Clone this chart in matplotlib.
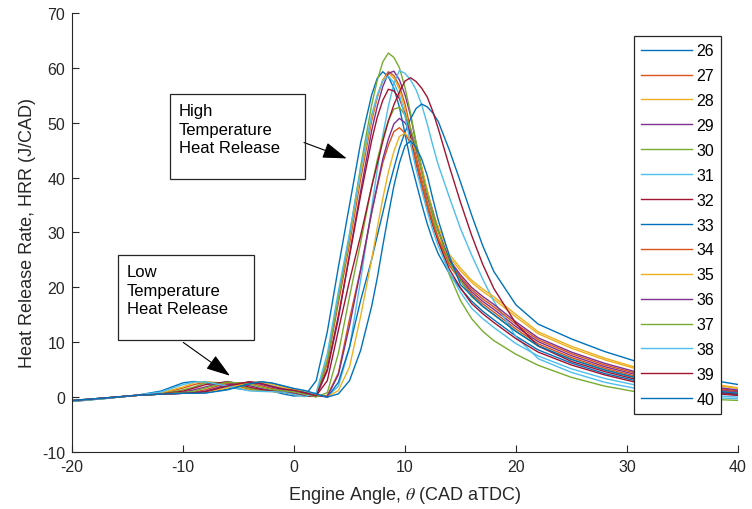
import matplotlib
matplotlib.use('Agg')
import matplotlib.pyplot as plt
from matplotlib.patches import Rectangle

plt.rcParams['font.family'] = ['Liberation Sans', 'DejaVu Sans']
plt.rcParams['mathtext.fontset'] = 'stix'
plt.rcParams['axes.unicode_minus'] = False

# Engine angle grid (CAD aTDC)
theta = [-20, -17, -14, -12, -10, -9, -8, -6, -4, -3, -2, -1, 0, 1, 2, 3, 4, 5, 6, 7,
         7.5, 8, 8.5, 9, 9.5, 10, 10.5, 11, 11.5, 12, 12.5, 13, 14, 15, 16, 17, 18, 20,
         22, 25, 28, 31, 34, 37, 40]

hrr_26 = [-0.8, -0.25, 0.4, 1.1, 2.6, 2.85, 2.65, 1.8, 1.25, 1.2, 1.1, 0.6, 0.2, 0.3, 3.0,
          11.9, 23.7, 35.0, 46.3, 55.1, 58.1, 59.3, 58.4, 56.3, 52.8, 48.0, 43.0, 39.1, 35.2, 31.6,
          28.6, 26.1, 22.5, 19.8, 17.5, 15.65, 14.1, 11.1, 8.6, 6.2, 4.3, 2.9, 1.8, 1.0, 0.4]
hrr_27 = [-0.7, -0.2, 0.35, 0.68, 1.65, 2.27, 2.75, 2.56, 1.39, 1.14, 1.05, 0.95, 0.6, 0.2, 0.1,
          6.2, 17.2, 27.9, 39.7, 50.4, 54.6, 57.8, 59.3, 58.6, 56.7, 53.4, 48.9, 43.9, 39.7, 35.6,
          32.0, 29.1, 24.0, 21.2, 18.8, 17.0, 15.5, 12.4, 9.7, 7.2, 5.25, 3.7, 2.45, 1.5, 0.85]
hrr_28 = [-0.75, -0.2, 0.4, 0.76, 1.85, 2.6, 2.85, 2.29, 1.24, 1.08, 1.02, 0.85, 0.5, 0.1, 0.7,
          7.1, 18.3, 28.9, 40.7, 51.0, 54.9, 57.8, 59.0, 58.1, 56.1, 52.5, 47.8, 42.5, 38.9, 34.8,
          31.3, 29.0, 25.5, 23.0, 20.9, 19.25, 17.85, 14.6, 11.55, 8.9, 6.8, 5.05, 3.6, 2.4, 1.6]
hrr_29 = [-0.7, -0.2, 0.35, 0.55, 0.91, 1.32, 1.85, 2.85, 2.09, 1.58, 1.24, 1.0, 0.75, 0.3, 0.1,
          4.8, 14.3, 26.0, 37.5, 48.6, 53.0, 56.6, 59.0, 59.4, 57.8, 55.1, 51.3, 46.2, 41.7, 37.5,
          34.0, 30.4, 24.8, 21.6, 19.2, 17.45, 16.0, 12.85, 10.1, 7.55, 5.55, 4.0, 2.7, 1.7, 1.0]
hrr_30 = [-0.75, -0.25, 0.35, 0.6, 1.32, 1.85, 2.6, 2.65, 1.58, 1.24, 1.08, 0.95, 0.6, 0.2, 0.5,
          6.6, 18.2, 29.5, 42.0, 53.3, 57.7, 61.1, 62.7, 61.9, 60.0, 56.4, 51.7, 46.4, 42.0, 37.0,
          32.8, 28.8, 22.3, 17.6, 14.3, 12.0, 10.3, 7.8, 5.8, 3.6, 2.0, 0.9, 0.1, -0.35, -0.6]
hrr_31 = [-0.65, -0.15, 0.35, 0.55, 0.7, 0.75, 0.91, 1.85, 2.8, 2.59, 2.09, 1.58, 1.2, 0.7, 0.2,
          0.1, 2.0, 9.0, 21.3, 34.6, 41.4, 47.7, 53.0, 57.2, 59.5, 59.0, 57.8, 56.0, 53.3, 49.8,
          45.9, 42.3, 36.4, 30.7, 25.9, 21.5, 17.5, 11.0, 7.0, 4.5, 2.7, 1.5, 0.6, 0.0, -0.3]
hrr_32 = [-0.7, -0.2, 0.35, 0.57, 1.08, 1.65, 2.27, 2.8, 1.82, 1.39, 1.14, 0.95, 0.6, 0.2, 0.3,
          5.1, 14.9, 25.7, 36.7, 46.8, 51.0, 54.1, 56.1, 55.8, 54.4, 51.6, 47.4, 42.6, 38.6, 34.7,
          31.3, 28.3, 23.3, 19.9, 17.05, 15.2, 13.6, 10.65, 8.2, 5.85, 4.05, 2.6, 1.55, 0.8, 0.3]
hrr_33 = [-0.6, -0.15, 0.35, 0.55, 0.7, 0.7, 0.76, 1.45, 2.52, 2.8, 2.5, 1.98, 1.5, 0.9, 0.4,
          0.0, 2.7, 9.1, 17.6, 25.1, 29.4, 33.6, 37.9, 41.7, 45.4, 48.3, 50.7, 52.6, 53.4, 52.9,
          51.8, 50.2, 45.0, 39.2, 33.2, 27.6, 22.9, 16.8, 13.3, 10.6, 8.3, 6.4, 4.7, 3.3, 2.3]
hrr_34 = [-0.65, -0.15, 0.35, 0.55, 0.75, 0.91, 1.32, 2.6, 2.59, 2.09, 1.58, 1.24, 1.05, 0.7, 0.2,
          0.3, 4.4, 14.2, 23.3, 33.6, 38.3, 42.7, 45.9, 48.4, 49.1, 48.1, 46.2, 43.0, 38.8, 34.9,
          31.7, 28.8, 24.6, 21.9, 19.6, 17.9, 16.45, 13.3, 10.45, 7.9, 5.85, 4.25, 2.9, 1.85, 1.15]
hrr_35 = [-0.6, -0.15, 0.35, 0.55, 0.7, 0.7, 0.83, 1.65, 2.7, 2.74, 2.36, 1.82, 1.39, 1.15, 0.5,
          0.1, 1.2, 5.5, 14.7, 25.1, 30.8, 36.2, 41.0, 44.8, 47.5, 48.1, 47.0, 44.8, 41.9, 37.8,
          33.7, 31.0, 26.0, 23.5, 21.3, 19.7, 18.3, 15.05, 11.9, 9.25, 7.1, 5.3, 3.8, 2.6, 1.7]
hrr_36 = [-0.65, -0.15, 0.35, 0.55, 0.7, 0.83, 1.08, 2.27, 2.74, 2.36, 1.82, 1.39, 1.14, 0.7, 0.2,
          0.1, 4.1, 13.0, 23.1, 33.8, 38.6, 43.4, 47.0, 49.8, 50.8, 50.0, 48.3, 45.2, 41.1, 36.6,
          33.5, 30.2, 25.0, 22.3, 20.0, 18.35, 16.9, 13.7, 10.8, 8.2, 6.15, 4.5, 3.1, 2.05, 1.3]
hrr_37 = [-0.7, -0.2, 0.35, 0.55, 0.83, 1.08, 1.65, 2.75, 2.36, 1.82, 1.39, 1.14, 1.0, 0.55, 0.05,
          0.8, 8.0, 18.3, 28.1, 38.4, 43.2, 47.2, 50.4, 52.5, 52.8, 51.4, 49.0, 45.6, 41.1, 37.1,
          33.4, 30.2, 24.5, 21.2, 18.3, 16.55, 15.0, 12.0, 9.3, 6.9, 4.95, 3.45, 2.2, 1.3, 0.7]
hrr_38 = [-0.75, -0.25, 0.4, 0.93, 2.27, 2.75, 2.8, 2.02, 1.14, 1.04, 1.0, 0.9, 0.5, 0.1, 0.8,
          7.9, 19.3, 29.8, 41.5, 51.5, 55.0, 57.6, 58.5, 57.3, 55.0, 51.2, 46.2, 41.5, 37.7, 33.9,
          30.4, 27.5, 22.7, 19.1, 16.2, 14.3, 12.7, 9.75, 7.5, 5.15, 3.4, 2.1, 1.1, 0.4, 0.0]
hrr_39 = [-0.65, -0.15, 0.35, 0.55, 0.7, 0.76, 0.98, 2.02, 2.8, 2.5, 1.98, 1.5, 1.25, 0.75, 0.25,
          3.0, 12.2, 21.2, 29.4, 38.4, 42.5, 46.6, 50.3, 53.3, 55.6, 57.6, 58.2, 57.5, 56.3, 54.7,
          52.1, 48.9, 42.0, 35.5, 29.5, 24.2, 19.8, 13.4, 9.3, 6.5, 4.65, 3.15, 2.0, 1.15, 0.55]
hrr_40 = [-0.6, -0.15, 0.35, 0.55, 0.7, 0.7, 0.75, 1.32, 2.44, 2.8, 2.59, 2.09, 1.58, 1.2, 0.6,
          0.0, 0.6, 3.0, 8.5, 16.6, 21.7, 27.6, 33.2, 38.5, 42.7, 45.8, 46.7, 45.5, 43.4, 40.4,
          36.2, 32.2, 25.7, 20.5, 18.5, 16.55, 15.05, 11.95, 9.35, 6.85, 4.95, 3.45, 2.2, 1.3, 0.7]

labels = ['26', '27', '28', '29', '30', '31', '32', '33', '34', '35', '36', '37', '38', '39', '40']
series = [hrr_26, hrr_27, hrr_28, hrr_29, hrr_30, hrr_31, hrr_32, hrr_33, hrr_34, hrr_35,
          hrr_36, hrr_37, hrr_38, hrr_39, hrr_40]
colors = ['#0072BD', '#D95319', '#EDB120', '#7E2F8E', '#77AC30', '#4DBEEE', '#A2142F']

AX = '#262626'
W, H = 752, 510

fig = plt.figure(figsize=(W / 100, H / 100), dpi=100)
ax = fig.add_axes([72 / W, 1 - 453 / H, (738 - 72) / W, (453 - 14) / H])

for i, (lab, y) in enumerate(zip(labels, series)):
    ax.plot(theta, y, color=colors[i % len(colors)], lw=1.0, label=lab)

ax.set_xlim(-20, 40)
ax.set_ylim(-10, 70)
ax.set_xticks(range(-20, 41, 10))
ax.set_yticks(range(-10, 71, 10))
for s in ['top', 'right']:
    ax.spines[s].set_visible(False)
for s in ['left', 'bottom']:
    ax.spines[s].set_color(AX)
    ax.spines[s].set_linewidth(0.8)
ax.tick_params(direction='in', length=5, width=0.8, colors=AX, labelsize=11.5, pad=5)
ax.set_xlabel(r'Engine Angle, $\theta$ (CAD aTDC)', fontsize=13, color=AX, labelpad=7)
ax.set_ylabel('Heat Release Rate, HRR (J/CAD)', fontsize=13, color=AX, labelpad=4)

leg = ax.legend(loc='upper left', bbox_to_anchor=(634 / W, 1 - 37 / H),
                bbox_transform=fig.transFigure, frameon=True, fancybox=False,
                fontsize=11.5, handlelength=3.2, handletextpad=0.25,
                labelspacing=0.62, borderpad=0.45, borderaxespad=0)
leg.get_frame().set_edgecolor(AX)
leg.get_frame().set_linewidth(0.9)
leg.get_frame().set_alpha(1)

# Annotation text boxes
for (x0, y0, x1, y1), txt in [((170, 95, 305, 180), 'High\nTemperature\nHeat Release'),
                              ((118, 256, 254, 341), 'Low\nTemperature\nHeat Release')]:
    fig.add_artist(Rectangle((x0 / W, 1 - y1 / H), (x1 - x0) / W, (y1 - y0) / H,
                             transform=fig.transFigure, fill=False,
                             edgecolor=AX, lw=0.9))
    fig.text((x0 + 9) / W, 1 - (y0 + 9) / H, txt, ha='left', va='top',
             fontsize=12, color='k', linespacing=1.3)

arrow = dict(arrowstyle='-|>,head_length=1.5,head_width=0.5', color='k', lw=0.8,
             shrinkA=0, shrinkB=0, mutation_scale=10)
ax.annotate('', xy=(4.75, 43.5), xytext=(0.9, 46.4), arrowprops=arrow)
ax.annotate('', xy=(-5.77, 3.9), xytext=(-9.97, 9.96), arrowprops=arrow)

fig.savefig('out.png', dpi=100)
